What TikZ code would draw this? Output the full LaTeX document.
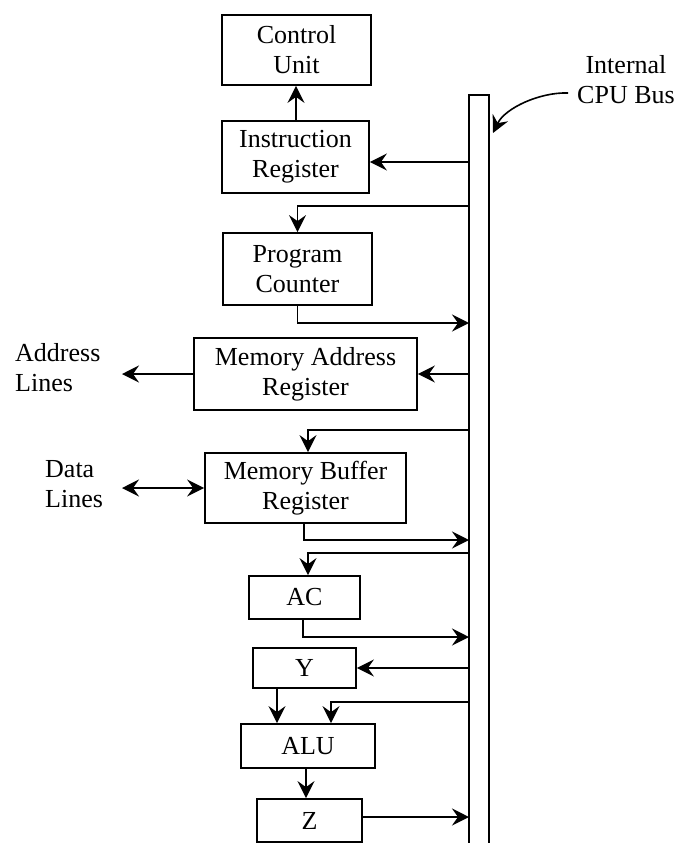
\documentclass[tikz,border=0pt]{standalone}
\usepackage{fontspec}
\setmainfont{Liberation Serif}
\usetikzlibrary{arrows.meta}
\begin{document}
\begin{tikzpicture}[x=1pt,y=-1pt,
  reg/.style={draw,line width=1.8pt,inner sep=0pt,align=center,font=\fontsize{26}{30}\selectfont},
  lbl/.style={inner sep=0pt,align=left,font=\fontsize{26}{30}\selectfont},
  conn/.style={line width=1.6pt,-{Stealth[length=17pt,width=17pt,inset=6pt]}},
  dconn/.style={line width=1.6pt,{Stealth[length=17pt,width=17pt,inset=6pt]}-{Stealth[length=17pt,width=17pt,inset=6pt]}}]
\useasboundingbox (0,0) rectangle (683,843);
% bus
\draw[line width=1.8pt] (469,850) -- (469,95) -- (489,95) -- (489,850);
% registers
\node[reg,minimum width=149pt,minimum height=70pt] (cu) at (296.5,50) {Control\\Unit};
\node[reg,minimum width=147pt,minimum height=72pt] (ir) at (295.5,157) {Instruction\\Register};
\node[reg,minimum width=149pt,minimum height=72pt] (pc) at (297.5,269) {Program\\Counter};
\node[reg,minimum width=223pt,minimum height=72pt] (mar) at (305.5,374) {Memory Address\\Register};
\node[reg,minimum width=201pt,minimum height=70pt] (mbr) at (305.5,488) {Memory Buffer\\Register};
\node[reg,minimum width=111pt,minimum height=43pt] (ac) at (304.5,597.5) {AC};
\node[reg,minimum width=103pt,minimum height=40pt] (y) at (304.5,668) {Y};
\node[reg,minimum width=134pt,minimum height=44pt] (alu) at (308,746) {ALU};
\node[reg,minimum width=105pt,minimum height=43pt] (z) at (309.5,820.5) {Z};
% labels
\node[lbl,anchor=west] (addr) at (15,368) {Address\\Lines};
\node[lbl,anchor=west] (data) at (45,484) {Data\\Lines};
\node[inner sep=0pt,align=center,font=\fontsize{26}{30}\selectfont] (buslabel) at (626,80) {Internal\\CPU Bus};
% bus points
\coordinate (b1) at (469,162);
\coordinate (b2) at (469,206);
\coordinate (b3) at (469,323);
\coordinate (b4) at (469,374);
\coordinate (b5) at (469,430);
\coordinate (b6) at (469,540);
\coordinate (b7) at (469,553);
\coordinate (b8) at (469,637);
\coordinate (b9) at (469,668);
\coordinate (b10) at (469,702);
\coordinate (b11) at (469,817);
\coordinate (addrend) at (122,374);
\coordinate (dataend) at (122,488);
\coordinate (busstart) at (568,93);
\coordinate (bustip) at (493,133);
% connectors
\draw[conn] ([xshift=0.5pt]ir.north) -- ([xshift=0.5pt]ir.north |- cu.south);
\draw[conn] (b1) -- (ir.east |- b1);
\draw[conn] (b2) -| (pc.north);
\draw[conn] (pc.south) |- (b3);
\draw[conn] (b4) -- (mar.east);
\draw[conn] (mar.west) -- (addrend);
\draw[conn] (b5) -| ([xshift=2.5pt]mbr.north);
\draw[dconn] (dataend) -- (mbr.west);
\draw[conn] ([xshift=-1.5pt]mbr.south) |- (b6);
\draw[conn] (b7) -| ([xshift=3.5pt]ac.north);
\draw[conn] ([xshift=-1.5pt]ac.south) |- (b8);
\draw[conn] (b9) -- (y.east);
\draw[conn] ([xshift=-27.5pt]y.south) -- ([xshift=-27.5pt]y.south |- alu.north);
\draw[conn] (b10) -| ([xshift=23pt]alu.north);
\draw[conn] ([xshift=-2pt]alu.south) -- ([xshift=-2pt]alu.south |- z.north);
\draw[conn] (z.east |- b11) -- (b11);
\draw[conn] (busstart) .. controls (540,92) and (505,108) .. (bustip);
\end{tikzpicture}
\end{document}
